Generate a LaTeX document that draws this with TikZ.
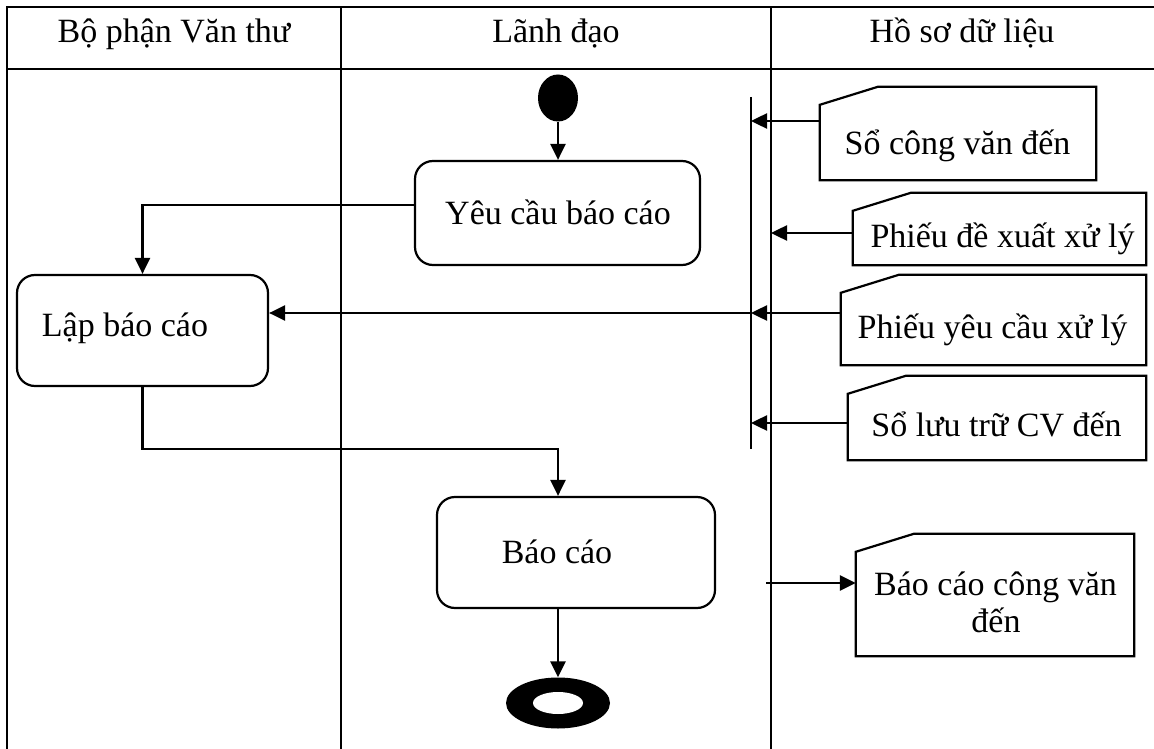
\documentclass[tikz,border=0pt]{standalone}
\usepackage{fontspec}
\setmainfont{Liberation Serif}
\usetikzlibrary{arrows.meta,shapes.geometric}
% outline of a document (note) shape with a cut top-left corner
\newcommand\docedge[1]{%
  \draw[flow] ([yshift=-18pt]#1.north west) -- ([xshift=58pt]#1.north west)
    -- (#1.north east) -- (#1.south east) -- (#1.south west) -- cycle;}
\begin{document}
\begin{tikzpicture}[x=1pt,y=-1pt,
  every node/.style={font=\fontsize{34}{37}\selectfont},
  lane/.style={line width=2.2pt},
  flow/.style={line width=2.2pt},
  act/.style={draw, line width=2.2pt, rounded corners=18pt, inner sep=0pt},
  doc/.style={inner sep=0pt},
  txt/.style={anchor=base, inner sep=0pt},
  arr/.style={line width=2.5pt, -{Triangle[length=16pt,width=15pt]}},
]
\useasboundingbox (0,0) rectangle (1154,749);

% swimlanes
\draw[lane] (1154,7) -- (7,7) -- (7,749);
\draw[lane] (7,69) -- (1154,69);
\draw[lane] (341,7) -- (341,749);
\draw[lane] (771,7) -- (771,749);
\coordinate (laneTop) at (771,7);

\node[txt] (h1) at (174,43) {Bộ phận Văn thư};
\node[txt] (h2) at (556,43) {Lãnh đạo};
\node[txt] (h3) at (962,43) {Hồ sơ dữ liệu};

% initial node
\node[ellipse, fill=black, minimum width=40pt, minimum height=47pt, inner sep=0pt] (start) at (558,98) {};

% activities
\node[act, minimum width=285pt, minimum height=104pt] (yc) at (557.5,213) {};
\node[txt] (yct) at (558,224) {Yêu cầu báo cáo};
\node[act, minimum width=251pt, minimum height=111pt] (lap) at (142.5,330.5) {};
\node[txt] (lapt) at (125,336) {Lập báo cáo};
\node[act, minimum width=278pt, minimum height=111pt] (bc) at (576,552.5) {};
\node[txt] (bct) at (557,563) {Báo cáo};

% final node
\node[ellipse, fill=black, minimum width=104pt, minimum height=51pt, inner sep=0pt] (stop) at (558,703) {};
\fill[white] (stop.center) ellipse [x radius=25pt, y radius=11pt];

% synchronisation bar
\coordinate (fkT) at (751,97);
\coordinate (fkB) at (751,449);
\draw[flow] (fkT) -- (fkB);

% data documents
\node[doc, minimum width=276pt, minimum height=93pt] (d1) at (958,133.5) {};
\docedge{d1}
\node[txt] (d1t) at (957.5,154) {Sổ công văn đến};
\node[doc, minimum width=293pt, minimum height=72pt] (d2) at (999.5,229) {};
\docedge{d2}
\node[txt] (d2t) at (1002.5,247) {Phiếu đề xuất xử lý};
\node[doc, minimum width=305pt, minimum height=90pt] (d3) at (993.5,320) {};
\docedge{d3}
\node[txt] (d3t) at (992.5,338) {Phiếu yêu cầu xử lý};
\node[doc, minimum width=298pt, minimum height=84pt] (d4) at (997,418) {};
\docedge{d4}
\node[txt] (d4t) at (996.5,436) {Sổ lưu trữ CV đến};
\node[doc, minimum width=278pt, minimum height=122pt] (d5) at (995,595) {};
\docedge{d5}
\node[txt] (d5t) at (995.5,595) {Báo cáo công văn};
\node[txt] (d5u) at (996,632) {đến};

% control flow
\draw[arr] (start.south) -- (start.south |- yc.north);
\draw[arr] ([yshift=8pt]yc.west) -| (lap.north);
\draw[arr] (lap.south) -- ([yshift=-62pt]lap.south) -| (bc.north -| start);
\draw[arr] (bc.south -| start) -- (stop.north);

% object flows
\path ([yshift=12.5pt]d1.west) coordinate (d1a);
\draw[arr] (d1a) -- (d1a -| fkT);
\path ([yshift=-4pt]d2.west) coordinate (d2a);
\draw[arr] (d2a) -- (d2a -| laneTop);
\path ([yshift=7pt]d3.west) coordinate (d3a);
\draw[arr] (d3a) -- (d3a -| fkT);
\draw[arr] (d3a -| fkT) -- (d3a -| lap.east);
\path ([yshift=-5pt]d4.west) coordinate (d4a);
\draw[arr] (d4a) -- (d4a -| fkT);
\path ([yshift=12pt]d5.west) coordinate (d5a);
\coordinate (d5src) at ([xshift=-5pt]laneTop);
\draw[arr] (d5a -| d5src) -- (d5a);
\end{tikzpicture}
\end{document}
